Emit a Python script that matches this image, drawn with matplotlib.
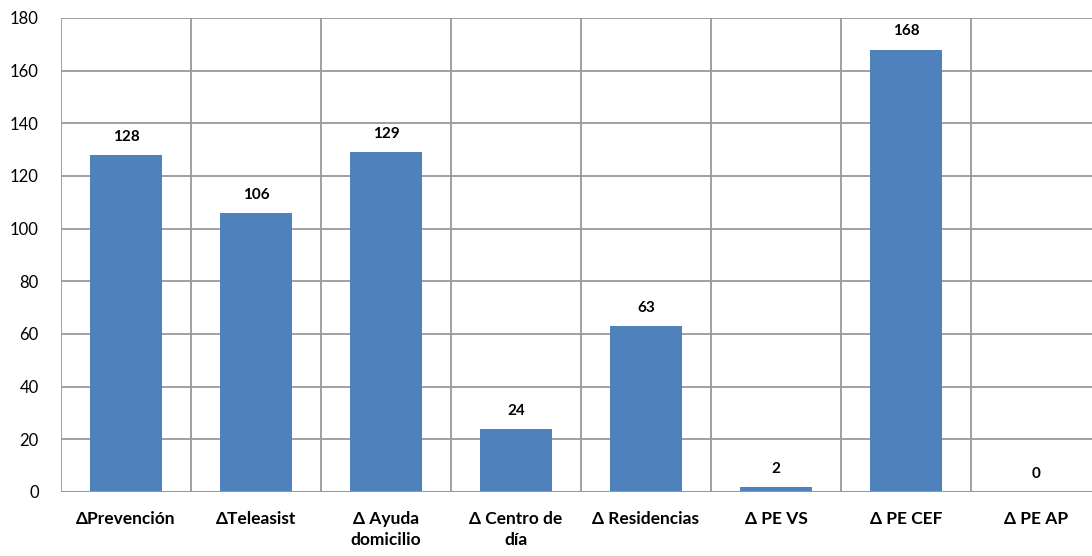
import matplotlib
matplotlib.use("Agg")
import matplotlib.pyplot as plt
import numpy as np

categories = ["ΔPrevención", "ΔTeleasist", "Δ Ayuda\ndomicilio", "Δ Centro de\ndía",
              "Δ Residencias", "Δ PE VS", "Δ PE CEF", "Δ PE AP"]
values = [128, 106, 129, 24, 63, 2, 168, 0]
yticks = [0, 20, 40, 60, 80, 100, 120, 140, 160, 180]

plt.rcParams['font.family'] = ['Lato', 'DejaVu Sans']

W, H = 1092, 556
fig = plt.figure(figsize=(W/100, H/100), dpi=100)
left, right, top, bottom = 61, 1101, 18, 492
ax = fig.add_axes([left/W, 1-bottom/H, (right-left)/W, (bottom-top)/H])

x = np.arange(len(categories))
ax.bar(x, values, width=0.56, color="#4F81BD", zorder=3)
ax.set_xlim(-0.5, len(categories)-0.5)
ax.set_ylim(0, 180)
ax.set_yticks(yticks)
ax.set_yticklabels([str(t) for t in yticks], fontsize=12)
ax.set_xticks(x)
ax.set_xticklabels(categories, fontsize=12.5, fontweight='bold', linespacing=1.35, va='top')
ax.tick_params(axis='both', length=0)
ax.tick_params(axis='y', pad=16)
ax.tick_params(axis='x', pad=14)

gc = "#999999"
ax.yaxis.grid(True, color=gc, linewidth=1.3, zorder=0)
for b in np.arange(-0.5, len(categories)+0.5, 1):
    ax.axvline(b, color=gc, linewidth=1.3, zorder=1)
for s in ax.spines.values():
    s.set_visible(False)
ax.axhline(0, color=gc, linewidth=1.3, zorder=4)

for xi, v in zip(x, values):
    ax.annotate(str(v), (xi, v), xytext=(0, 8), textcoords='offset points',
                ha='center', va='bottom', fontsize=11, fontweight='bold', zorder=5)

fig.savefig("out.png", dpi=100)
